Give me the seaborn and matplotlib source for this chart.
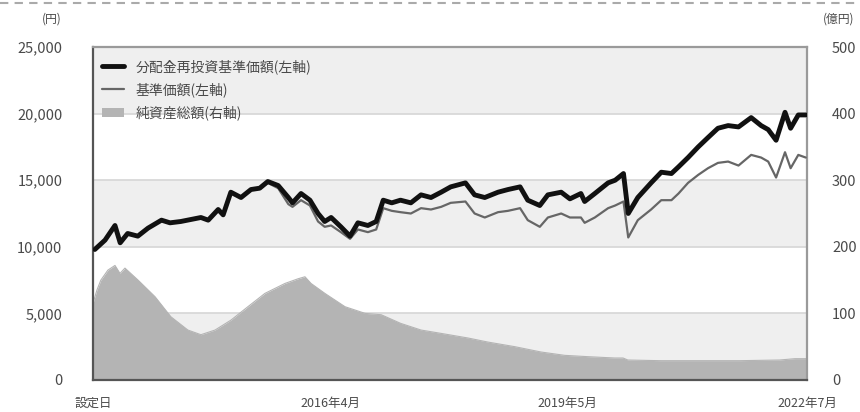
import matplotlib
matplotlib.use("Agg")
import matplotlib.pyplot as plt
from matplotlib.lines import Line2D
from matplotlib.patches import Patch
import seaborn as sns
import pandas as pd

# ---------------- data ----------------
line_dates = [
    "2013-03-10", "2013-04-28", "2013-06-15", "2013-07-10", "2013-08-15", "2013-10-03",
    "2013-11-21", "2014-01-25", "2014-03-07", "2014-04-28", "2014-08-03", "2014-09-07",
    "2014-10-25", "2014-11-18", "2014-12-25", "2015-02-12", "2015-04-01", "2015-05-13",
    "2015-06-21", "2015-08-10", "2015-09-28", "2015-10-18", "2015-11-28", "2016-01-10",
    "2016-02-18", "2016-03-21", "2016-04-21", "2016-06-07", "2016-07-21", "2016-08-28",
    "2016-10-15", "2016-11-24", "2016-12-28", "2017-02-07", "2017-03-21", "2017-05-10",
    "2017-06-28", "2017-08-15", "2017-10-03", "2017-11-18", "2018-01-28", "2018-03-13",
    "2018-05-01", "2018-07-04", "2018-08-21", "2018-10-18", "2018-11-24", "2019-01-21",
    "2019-03-01", "2019-05-04", "2019-06-15", "2019-08-07", "2019-08-25", "2019-10-13",
    "2019-12-16", "2020-01-19", "2020-02-28", "2020-03-22", "2020-05-07", "2020-07-10",
    "2020-08-28", "2020-10-16", "2020-11-19", "2021-01-04", "2021-02-22", "2021-04-10",
    "2021-05-28", "2021-07-16", "2021-09-04", "2021-11-04", "2021-12-22", "2022-01-25",
    "2022-03-04", "2022-04-16", "2022-05-13", "2022-06-19", "2022-07-25",
]
# 分配金再投資基準価額 (円)
reinvested_nav = [
    9800, 10500, 11600, 10300, 11000, 10800, 11400, 12000, 11800, 11900, 12200, 12000,
    12800, 12400, 14100, 13700, 14300, 14400, 14900, 14600, 13700, 13300, 14000, 13500,
    12500, 11900, 12200, 11500, 10800, 11800, 11600, 11900, 13500, 13300, 13500, 13300,
    13900, 13700, 14100, 14500, 14800, 13900, 13700, 14100, 14300, 14500, 13500, 13100,
    13900, 14100, 13600, 14000, 13400, 14000, 14800, 15000, 15500, 12500, 13700, 14800,
    15600, 15500, 16000, 16700, 17500, 18200, 18900, 19100, 19000, 19700, 19100, 18800,
    18000, 20100, 18900, 19900, 19900,
]
# 基準価額 (円)
nav = [
    9800, 10500, 11600, 10300, 11000, 10800, 11400, 12000, 11800, 11900, 12200, 12000,
    12800, 12400, 14100, 13700, 14300, 14400, 14800, 14400, 13200, 13000, 13500, 13100,
    11900, 11500, 11600, 11100, 10600, 11300, 11100, 11300, 12900, 12700, 12600, 12500,
    12900, 12800, 13000, 13300, 13400, 12500, 12200, 12600, 12700, 12900, 12000, 11500,
    12200, 12500, 12200, 12200, 11800, 12200, 12900, 13100, 13400, 10700, 12000, 12800,
    13500, 13500, 14000, 14800, 15400, 15900, 16300, 16400, 16100, 16900, 16700, 16400,
    15200, 17100, 15900, 16900, 16700,
]

asset_dates = [
    "2013-03-01", "2013-03-20", "2013-04-08", "2013-05-12", "2013-06-15", "2013-07-09",
    "2013-08-02", "2013-10-04", "2013-12-25", "2014-03-11", "2014-06-01", "2014-08-03",
    "2014-10-10", "2014-12-26", "2015-03-17", "2015-06-07", "2015-09-12", "2015-11-14",
    "2015-12-17", "2016-01-15", "2016-03-22", "2016-06-27", "2016-10-02", "2016-12-18",
    "2017-03-22", "2017-06-28", "2017-10-02", "2018-02-10", "2018-05-15", "2018-09-23",
    "2019-01-27", "2019-05-21", "2019-09-10", "2020-01-18", "2020-02-26", "2020-03-20",
    "2020-08-22", "2021-03-02", "2021-09-12", "2022-03-21", "2022-06-03", "2022-07-25",
]
# 純資産総額 (億円)
net_assets = [
    115, 135, 150, 165, 172, 160, 168, 150, 125, 95, 75, 68,
    75, 90, 110, 130, 145, 152, 155, 145, 130, 110, 100, 98,
    85, 75, 70, 63, 57, 50, 42, 37, 35, 33, 33, 30,
    29, 29, 29, 30, 32, 32,
]

x_start, x_end = "2013-03-01", "2022-07-31"
x_tick_dates = ["2013-03-01", "2016-04-20", "2019-06-01", "2022-07-31"]
x_tick_labels = ["設定日", "2016年4月", "2019年5月", "2022年7月"]
left_ticks = [0, 5000, 10000, 15000, 20000, 25000]
left_tick_labels = ["0", "5,000", "10,000", "15,000", "20,000", "25,000"]
right_ticks = [0, 100, 200, 300, 400, 500]
right_tick_labels = ["0", "100", "200", "300", "400", "500"]
legend_labels = ["分配金再投資基準価額(左軸)", "基準価額(左軸)", "純資産総額(右軸)"]

# ---------------- figure ----------------
sns.set_theme(style="white")
plt.rcParams["font.family"] = ["Noto Sans CJK JP", "DejaVu Sans"]

TXT = "#4a4a4a"
df_line = pd.DataFrame({"date": pd.to_datetime(line_dates),
                        "reinvest": reinvested_nav, "nav": nav})
df_area = pd.DataFrame({"date": pd.to_datetime(asset_dates), "assets": net_assets})

fig = plt.figure(figsize=(8.6, 4.12), dpi=100)
ax = fig.add_axes([0.1081, 0.0777, 0.8303, 0.8082])
ax2 = ax.twinx()
ax.set_zorder(ax2.get_zorder() + 1)
ax.patch.set_visible(False)

# background bands + band edges on the right axis (drawn below everything)
for lo, hi in [(0, 100), (200, 300), (400, 500)]:
    ax2.axhspan(lo, hi, color="#efefef", lw=0, zorder=0)
for v in right_ticks[1:-1]:
    ax2.axhline(v, color="#d6d6d6", lw=1.2, zorder=0.5)

# net assets area
ax2.fill_between(df_area["date"], 0, df_area["assets"], color="#b4b4b4", lw=0, zorder=1)
sns.lineplot(data=df_area, x="date", y="assets", ax=ax2, color="#b4b4b4", lw=0.8,
             estimator=None, zorder=1)

# lines
sns.lineplot(data=df_line, x="date", y="nav", ax=ax, color="#666666", lw=1.6,
             estimator=None, zorder=3)
sns.lineplot(data=df_line, x="date", y="reinvest", ax=ax, color="#111111", lw=3.5,
             estimator=None, zorder=4)

ax.set_xlim(pd.Timestamp(x_start), pd.Timestamp(x_end))
ax.set_ylim(0, 25000)
ax2.set_ylim(0, 500)

ax.set_xticks(pd.to_datetime(x_tick_dates))
ax.set_xticklabels(x_tick_labels)
ax.set_yticks(left_ticks)
ax.set_yticklabels(left_tick_labels)
ax2.set_yticks(right_ticks)
ax2.set_yticklabels(right_tick_labels)

ax.tick_params(axis="x", direction="in", length=4, width=1, color="#555555",
               pad=12, labelsize=9, labelcolor=TXT)
ax.tick_params(axis="y", length=0, pad=22, labelsize=10.5, labelcolor=TXT)
ax2.tick_params(axis="y", length=0, pad=18, labelsize=10.5, labelcolor=TXT)
ax.set_xlabel("")
ax.set_ylabel("")
ax2.set_xlabel("")
ax2.set_ylabel("")

for s in ["top", "right"]:
    ax.spines[s].set_color("#9a9a9a")
    ax.spines[s].set_linewidth(1.6)
for s in ["left", "bottom"]:
    ax.spines[s].set_color("#555555")
    ax.spines[s].set_linewidth(1.6)
for s in ax2.spines.values():
    s.set_visible(False)

# unit labels
fig.text(0.0605, 0.955, "(円)", ha="center", va="center", fontsize=8.5, color=TXT)
fig.text(0.975, 0.955, "(億円)", ha="center", va="center", fontsize=8.5, color=TXT)

# legend
handles = [Line2D([], [], color="#111111", lw=3.5),
           Line2D([], [], color="#666666", lw=1.6),
           Patch(facecolor="#b4b4b4", edgecolor="none")]
ax.legend(handles, legend_labels, loc="upper left", bbox_to_anchor=(0.013, 0.963),
          frameon=False, fontsize=10, labelcolor=TXT, handlelength=1.6,
          handletextpad=0.8, labelspacing=0.6, borderpad=0, borderaxespad=0)

# dashed separator at the top of the image
fig.add_artist(Line2D([0, 1], [0.992, 0.992], transform=fig.transFigure,
                      color="#aaaaaa", lw=1.5, ls=(0, (4, 3))))

fig.savefig("out.png", dpi=100)
